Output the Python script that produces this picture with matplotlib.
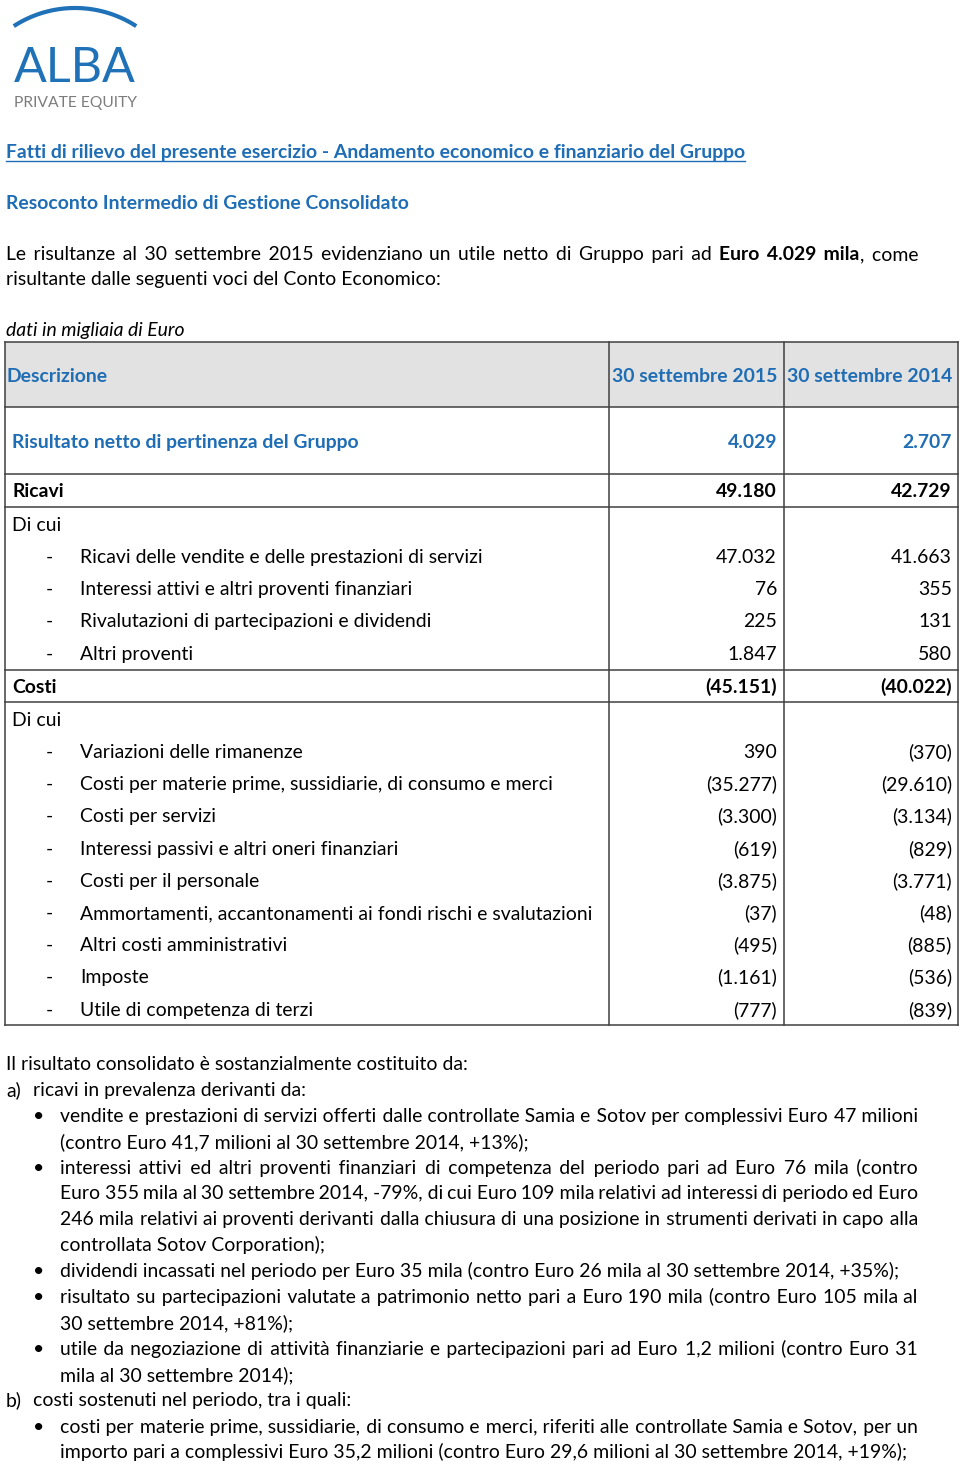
import numpy as np
import matplotlib
matplotlib.use("Agg")
import matplotlib.pyplot as plt

FONT = ["Lato", "DejaVu Sans"]
BLUE = "#1f6db5"
LOGO_BLUE = "#1f72b8"
GRAY_FILL = "#e2e2e2"
LINE = "#404040"

# ---------------- data ----------------
heading_link = "Fatti di rilievo del presente esercizio - Andamento economico e finanziario del Gruppo"
heading_sub = "Resoconto Intermedio di Gestione Consolidato"
unit_note = "dati in migliaia di Euro"
col_headers = ["Descrizione", "30 settembre 2015", "30 settembre 2014"]

row_labels = ["Risultato netto di pertinenza del Gruppo", "Ricavi", "Di cui",
              "Ricavi delle vendite e delle prestazioni di servizi",
              "Interessi attivi e altri proventi finanziari",
              "Rivalutazioni di partecipazioni e dividendi",
              "Altri proventi", "Costi", "Di cui",
              "Variazioni delle rimanenze",
              "Costi per materie prime, sussidiarie, di consumo e merci",
              "Costi per servizi",
              "Interessi passivi e altri oneri finanziari",
              "Costi per il personale",
              "Ammortamenti, accantonamenti ai fondi rischi e svalutazioni",
              "Altri costi amministrativi",
              "Imposte",
              "Utile di competenza di terzi"]
row_kinds = ["result", "total", "sub", "item", "item", "item", "item",
             "total", "sub", "item", "item", "item", "item", "item", "item",
             "item", "item", "item"]
values_2015 = ["4.029", "49.180", "", "47.032", "76", "225", "1.847",
               "(45.151)", "", "390", "(35.277)", "(3.300)", "(619)",
               "(3.875)", "(37)", "(495)", "(1.161)", "(777)"]
values_2014 = ["2.707", "42.729", "", "41.663", "355", "131", "580",
               "(40.022)", "", "(370)", "(29.610)", "(3.134)", "(829)",
               "(3.771)", "(48)", "(885)", "(536)", "(839)"]

intro_runs = [("Le risultanze al 30 settembre 2015 evidenziano un utile netto di Gruppo pari ad", "normal", False),
              ("Euro 4.029 mila", "bold", False),
              (", come", "normal", True)]
intro_line2 = "risultante dalle seguenti voci del Conto Economico:"

# body text lines: (marker, text, justified)
body_lines = [
    ("", "Il risultato consolidato è sostanzialmente costituito da:", False),
    ("a)", "ricavi in prevalenza derivanti da:", False),
    ("•", "vendite e prestazioni di servizi offerti dalle controllate Samia e Sotov per complessivi Euro 47 milioni", True),
    ("", "(contro Euro 41,7 milioni al 30 settembre 2014,  +13%);", False),
    ("•", "interessi attivi ed altri proventi finanziari di competenza del periodo pari ad Euro 76 mila (contro", True),
    ("", "Euro 355 mila al 30 settembre 2014, -79%, di cui Euro 109 mila relativi ad interessi di periodo ed Euro", True),
    ("", "246 mila relativi ai proventi derivanti dalla chiusura di una posizione in strumenti derivati in capo alla", True),
    ("", "controllata Sotov Corporation);", False),
    ("•", "dividendi incassati nel periodo per Euro 35 mila (contro Euro 26 mila al 30 settembre 2014, +35%);", False),
    ("•", "risultato su partecipazioni valutate a patrimonio netto pari a Euro 190 mila (contro Euro 105 mila al", True),
    ("", "30 settembre 2014, +81%);", False),
    ("•", "utile da negoziazione di attività finanziarie e partecipazioni pari ad Euro 1,2 milioni (contro Euro 31", True),
    ("", "mila al 30 settembre 2014);", False),
    ("b)", "costi sostenuti nel periodo, tra i quali:", False),
    ("•", "costi per materie prime, sussidiarie, di consumo e merci, riferiti alle controllate Samia e Sotov, per un", True),
    ("", "importo pari a complessivi Euro 35,2 milioni (contro Euro 29,6 milioni al 30 settembre 2014, +19%);", False),
]

# ---------------- figure ----------------
W, H = 960, 1465
fig = plt.figure(figsize=(W / 100, H / 100), dpi=100)
ax = fig.add_axes([0, 0, 1, 1])
ax.set_xlim(0, W)
ax.set_ylim(H, 0)
ax.axis("off")
fig.patch.set_facecolor("white")
renderer = fig.canvas.get_renderer()

_mcache = {}


def measure(s, size, weight="normal", style="normal"):
    key = (s, size, weight, style)
    if key not in _mcache:
        t = ax.text(0, 0, s, fontsize=size, fontweight=weight, fontstyle=style, family=FONT)
        _mcache[key] = t.get_window_extent(renderer).width
        t.remove()
    return _mcache[key]


# calibrate body size so reference sentence width matches (~462 px)
FS = 15.0 * 462.0 / measure(body_lines[0][1], 15.0)
HAIR = "\u200a"
_gcache = {}


def gap_options(size, weight, style):
    key = (size, weight, style)
    if key not in _gcache:
        base = measure("aa", size, weight, style)
        sp = measure("a a", size, weight, style) - base
        hr = measure("a" + HAIR + "a", size, weight, style) - base
        opts = []
        for ns in range(0, 3):
            for nh in range(0, 12):
                if ns == 0 and nh == 0:
                    continue
                opts.append((ns * sp + nh * hr, " " * ns + HAIR * nh))
        _gcache[key] = (sp, opts)
    return _gcache[key]


def draw_line(pieces, x0, yb, size, justify_to=None, color="black", style="normal"):
    """pieces: list of (text, weight, glued_to_previous). Each piece is one
    text object; justification is done with hair spaces inside it."""
    pw = []
    for txt, wt, glued in pieces:
        words = txt.split()
        ws = [measure(w, size, wt, style) for w in words]
        pw.append((words, ws, wt, glued))
    n_gaps = sum(len(p[0]) - 1 for p in pw) + sum(1 for p in pw[1:] if not p[3])
    total = sum(sum(p[1]) for p in pw)
    sp, _ = gap_options(size, "normal", style)
    if justify_to is not None and n_gaps:
        g = (justify_to - x0 - total) / n_gaps
    else:
        g = sp
    x = x0
    for i, (words, ws, wt, glued) in enumerate(pw):
        if i > 0 and not glued:
            x += g
        if justify_to is None:
            s = " ".join(words)
        else:
            _, opts = gap_options(size, wt, style)
            s = words[0]
            pos = ws[0]
            for k in range(1, len(words)):
                target = pos + g
                need = target - measure(s, size, wt, style)
                _, gs = min(opts, key=lambda o: abs(o[0] - need))
                s += gs + words[k]
                pos = target + ws[k]
        ax.text(x, yb, s, fontsize=size, fontweight=wt, fontstyle=style,
                family=FONT, color=color, va="baseline", ha="left")
        x += measure(s, size, wt, style)
    return x


# ---------------- logo ----------------
R = 112.4
cx, cy = 75.0, 8.0 + R
t = np.radians(np.linspace(-33, 33, 100))
ax.plot(cx + R * np.sin(t), cy - R * np.cos(t), color=LOGO_BLUE, lw=3.0,
        solid_capstyle="butt")
alba_fs = 40.0 * 122.0 / measure("ALBA", 40.0, "normal")
ax.text(14, 82, "ALBA", fontsize=alba_fs, fontweight="normal", family=FONT,
        color=LOGO_BLUE, va="baseline", ha="left")
pe_fs = 11.0 * 123.0 / measure("PRIVATE EQUITY", 11.0, "normal")
ax.text(14, 107, "PRIVATE EQUITY", fontsize=pe_fs, fontweight="normal",
        family=FONT, color="#7d7d7d", va="baseline", ha="left")

# ---------------- headings ----------------
end = draw_line([(heading_link, "bold", False)], 6, 158, FS, color=BLUE)
ax.plot([6, end], [160.5, 160.5], color=BLUE, lw=1.0)
draw_line([(heading_sub, "bold", False)], 6, 209, FS, color=BLUE)

draw_line(intro_runs, 6, 260, FS, justify_to=918)
draw_line([(intro_line2, "normal", False)], 6, 285, FS)
draw_line([(unit_note, "normal", False)], 6, 336, FS, style="italic")

# ---------------- table ----------------
xl, xc1, xc2, xr = 5, 609, 784, 958
ytop = 342
ax.fill_between([xl, xr], ytop, 407, color=GRAY_FILL, lw=0, zorder=0)
row_y = [441, 490, 524, 556, 588, 620, 653, 686, 719, 751, 783, 815, 848,
         880, 912, 944, 976, 1009]
hlines = [342, 407, 473.5, 507, 669.5, 702, 1025]
for yy in hlines:
    ax.plot([xl, xr], [yy, yy], color=LINE, lw=1.1, solid_capstyle="projecting")
for xx in [xl, xc1, xc2, xr]:
    ax.plot([xx, xx], [ytop, 1025], color=LINE, lw=1.1, solid_capstyle="projecting")

B = 7  # baseline offset from visual centre
ax.text(6, 375 + B, col_headers[0], fontsize=FS, fontweight="bold", family=FONT,
        color=BLUE, va="baseline")
ax.text(777, 375 + B, col_headers[1], fontsize=FS, fontweight="bold", family=FONT,
        color=BLUE, va="baseline", ha="right")
ax.text(952, 375 + B, col_headers[2], fontsize=FS, fontweight="bold", family=FONT,
        color=BLUE, va="baseline", ha="right")

for lab, kind, v1, v2, yy in zip(row_labels, row_kinds, values_2015, values_2014, row_y):
    color = BLUE if kind == "result" else "black"
    weight = "bold" if kind in ("result", "total") else "normal"
    if kind == "item":
        ax.text(46, yy + B, "-", fontsize=FS, family=FONT, va="baseline")
        ax.text(80, yy + B, lab, fontsize=FS, family=FONT, va="baseline")
    else:
        ax.text(12, yy + B, lab, fontsize=FS, fontweight=weight, family=FONT,
                color=color, va="baseline")
    ax.text(777, yy + B, v1, fontsize=FS, fontweight=weight, family=FONT,
            color=color, va="baseline", ha="right")
    ax.text(952, yy + B, v2, fontsize=FS, fontweight=weight, family=FONT,
            color=color, va="baseline", ha="right")

# ---------------- body text ----------------
body_y = [1063, 1089, 1115, 1141, 1167, 1192, 1218, 1244, 1270, 1296, 1322,
          1348, 1374, 1399, 1426, 1451]
for (marker, txt, just), yy in zip(body_lines, body_y):
    if marker in ("a)", "b)"):
        ax.text(6, yy + B, marker, fontsize=FS, family=FONT, va="baseline")
        x0 = 33
    elif marker == "•":
        ax.text(33, yy + B, "•", fontsize=FS, family=FONT, va="baseline")
        x0 = 60
    elif txt.startswith("Il risultato"):
        x0 = 6
    else:
        x0 = 60
    draw_line([(txt, "normal", False)], x0, yy + B, FS,
              justify_to=918 if just else None)

fig.savefig("out.png", dpi=100, facecolor="white")
